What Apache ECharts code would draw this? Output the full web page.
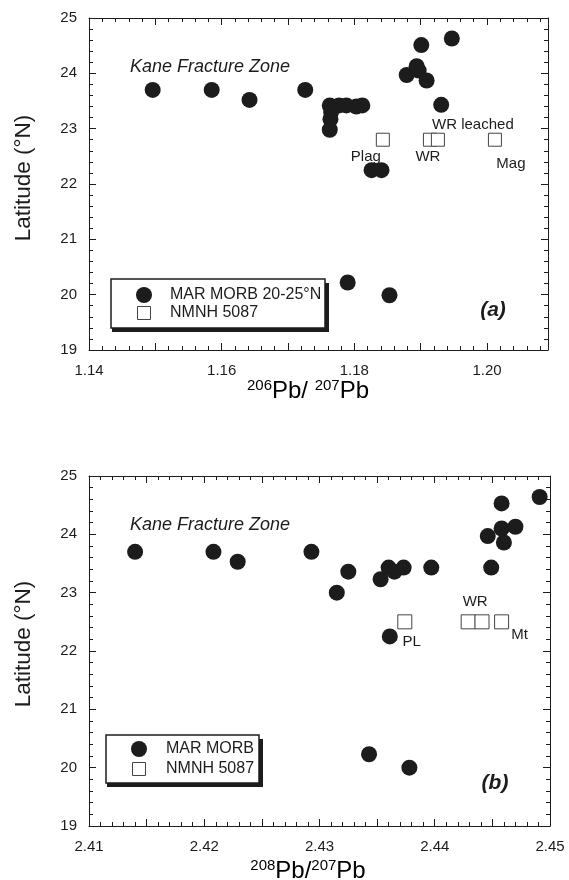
<!DOCTYPE html>
<html>
<head>
<meta charset="utf-8">
<script src="https://cdn.jsdelivr.net/npm/echarts@6/dist/echarts.min.js"></script>
<style>
html,body{margin:0;padding:0;background:#fff;}
#c{width:569px;height:880px;}
</style>
</head>
<body>
<div id="c"></div>
<script>
// ---- Data (a): 206Pb/207Pb vs Latitude ----
var morbA_x = [1.1496,1.1585,1.1642,1.1726,1.1763,1.1765,1.1764,1.1763,1.1777,1.1788,1.1803,1.1812,1.1826,1.1841,1.1879,1.1894,1.1897,1.1909,1.1901,1.1947,1.1931,1.1790,1.1853];
var morbA_y = [23.70,23.70,23.52,23.70,23.42,23.30,23.17,22.98,23.42,23.42,23.40,23.42,22.25,22.25,23.97,24.13,24.05,23.87,24.51,24.63,23.43,20.22,19.99];
var nmnhA_x = [1.1843,1.1914,1.1926,1.2012];
var nmnhA_y = [22.80,22.80,22.80,22.80];
var nmnhA_names = ['Plag','WR','WR leached','Mag'];

// ---- Data (b): 208Pb/207Pb vs Latitude ----
var morbB_x = [2.4140,2.4208,2.4229,2.4293,2.4315,2.4325,2.4353,2.4360,2.4365,2.4373,2.4397,2.4449,2.4446,2.4458,2.4460,2.4470,2.4458,2.4491,2.4361,2.4343,2.4378];
var morbB_y = [23.70,23.70,23.53,23.70,23.00,23.36,23.23,23.43,23.36,23.43,23.43,23.43,23.97,24.10,23.86,24.13,24.53,24.64,22.25,20.23,20.00];
var nmnhB_x = [2.4374,2.4429,2.4441,2.4458];
var nmnhB_y = [22.50,22.50,22.50,22.50];
var nmnhB_names = ['PL','WR','','Mt'];

// tick settings
var yTicks = {min:19, max:25, interval:1};
var xTicksA = {min:1.14, max:1.2092, interval:0.01};
var xTicksB = {min:2.41, max:2.45, interval:0.005};

// ---- styling (not data) ----
var INK = '#1c1c1c';
var FONT = 'Liberation Sans, Arial, Helvetica, sans-serif';
var offA = [[-17,17],[-2,17],[35,-15],[16,24]];
var offB = [[7,20],[7,-20],[0,0],[18,13]];

function zip(xs, ys){ var o=[]; for(var i=0;i<xs.length;i++) o.push([xs[i], ys[i]]); return o; }
function labelled(xs, ys, names, offs){
  var o=[];
  for(var i=0;i<xs.length;i++){
    o.push({value:[xs[i],ys[i]], label:{show:names[i]!=='', formatter:names[i], position:'inside', offset:offs[i], color:INK, fontSize:15, fontFamily:FONT}});
  }
  return o;
}

function xAxisDef(grid, t, pos, showLabel, fmt, showMax){
  return {
    type:'value', gridIndex:grid, position:pos, min:t.min, max:t.max, interval:t.interval,
    axisLine:{show:true, onZero:false, lineStyle:{color:INK, width:1}},
    axisTick:{show:true, inside:true, length:7, lineStyle:{color:INK, width:1}},
    minorTick:{show:true, splitNumber:5, length:4, lineStyle:{color:INK, width:1}},
    splitLine:{show:false}, minorSplitLine:{show:false},
    axisLabel:{show:showLabel, margin:13, color:INK, fontSize:15, fontFamily:FONT, showMaxLabel:showMax, showMinLabel:true, formatter:fmt}
  };
}
function yAxisDef(grid, pos, showLabel){
  return {
    type:'value', gridIndex:grid, position:pos, min:yTicks.min, max:yTicks.max, interval:yTicks.interval,
    axisLine:{show:true, onZero:false, lineStyle:{color:INK, width:1}},
    axisTick:{show:true, inside:true, length:7, lineStyle:{color:INK, width:1}},
    minorTick:{show:true, splitNumber:5, length:4, lineStyle:{color:INK, width:1}},
    splitLine:{show:false}, minorSplitLine:{show:false},
    axisLabel:{show:showLabel, margin:12, color:INK, fontSize:15, fontFamily:FONT}
  };
}
var fmtA = function(v){ var k=Math.round(v*100); return (k%2===0) ? (k/100).toFixed(2) : ''; };
var fmtB = function(v){ var k=Math.round(v*1000); return (k%10===0) ? (k/1000).toFixed(2) : ''; };

var chart = echarts.init(document.getElementById('c'), null, {renderer:'canvas'});

function legendGroup(x, y, w, h, items){
  var children = [
    {type:'rect', shape:{x:x+1, y:y+4, width:w+3, height:h}, style:{fill:INK}},
    {type:'rect', shape:{x:x, y:y, width:w, height:h}, style:{fill:'#fff', stroke:INK, lineWidth:1.5}}
  ];
  items.forEach(function(it){
    if(it.kind==='dot'){
      children.push({type:'circle', shape:{cx:it.mx, cy:it.my, r:8}, style:{fill:INK}});
    } else {
      children.push({type:'rect', shape:{x:it.mx-6.5, y:it.my-6.5, width:13, height:13}, style:{fill:'#fff', stroke:'#444', lineWidth:1}});
    }
    children.push({type:'text', x:it.tx, y:it.my, style:{text:it.text, fill:INK, font:'16px '+FONT, verticalAlign:'middle'}});
  });
  return {type:'group', children:children};
}

var titleRich = {
  sup:{fontSize:15, fontFamily:FONT, color:INK, verticalAlign:'top', lineHeight:26},
  m:{fontSize:24, fontFamily:FONT, color:INK, lineHeight:26}
};

var option = {
  backgroundColor:'#fff',
  animation:false,
  grid:[
    {left:89, top:18, width:459, height:332, containLabel:false},
    {left:89, top:476, width:461, height:350, containLabel:false}
  ],
  xAxis:[
    xAxisDef(0, xTicksA, 'bottom', true, fmtA, false),
    xAxisDef(0, xTicksA, 'top', false, fmtA, false),
    xAxisDef(1, xTicksB, 'bottom', true, fmtB, true),
    xAxisDef(1, xTicksB, 'top', false, fmtB, false)
  ],
  yAxis:[
    yAxisDef(0, 'left', true),
    yAxisDef(0, 'right', false),
    yAxisDef(1, 'left', true),
    yAxisDef(1, 'right', false)
  ],
  series:[
    {name:'MAR MORB 20-25°N', type:'scatter', xAxisIndex:0, yAxisIndex:0, symbol:'circle', symbolSize:16,
     itemStyle:{color:INK, opacity:1}, data:zip(morbA_x, morbA_y)},
    {name:'NMNH 5087', type:'scatter', xAxisIndex:0, yAxisIndex:0, symbol:'rect', symbolSize:13,
     itemStyle:{color:'#fff', borderColor:'#444', borderWidth:1, opacity:1}, data:labelled(nmnhA_x, nmnhA_y, nmnhA_names, offA)},
    {name:'MAR MORB', type:'scatter', xAxisIndex:2, yAxisIndex:2, symbol:'circle', symbolSize:16,
     itemStyle:{color:INK, opacity:1}, data:zip(morbB_x, morbB_y)},
    {name:'NMNH 5087 ', type:'scatter', xAxisIndex:2, yAxisIndex:2, symbol:'rect', symbolSize:14,
     itemStyle:{color:'#fff', borderColor:'#444', borderWidth:1, opacity:1}, data:labelled(nmnhB_x, nmnhB_y, nmnhB_names, offB)}
  ],
  graphic:[
    {type:'text', x:130, y:67, style:{text:'Kane Fracture Zone', fill:INK, font:'italic 18px '+FONT, verticalAlign:'middle'}},
    {type:'text', x:130, y:525, style:{text:'Kane Fracture Zone', fill:INK, font:'italic 18px '+FONT, verticalAlign:'middle'}},
    {type:'text', x:493, y:310, style:{text:'(a)', fill:INK, font:'italic bold 21px '+FONT, align:'center', verticalAlign:'middle'}},
    {type:'text', x:495, y:783, style:{text:'(b)', fill:INK, font:'italic bold 21px '+FONT, align:'center', verticalAlign:'middle'}},
    {type:'text', x:24, y:178, rotation:Math.PI/2, style:{text:'Latitude (°N)', fill:INK, font:'22.5px '+FONT, align:'center', verticalAlign:'middle'}},
    {type:'text', x:24, y:644, rotation:Math.PI/2, style:{text:'Latitude (°N)', fill:INK, font:'22.5px '+FONT, align:'center', verticalAlign:'middle'}},
    {type:'text', x:308, y:391, style:{text:'{sup|206}{m|Pb/ }{sup|207}{m|Pb}', rich:titleRich, align:'center', verticalAlign:'middle'}},
    {type:'text', x:308, y:871, style:{text:'{sup|208}{m|Pb/}{sup|207}{m|Pb}', rich:titleRich, align:'center', verticalAlign:'middle'}},
    legendGroup(111, 279, 214, 49, [
      {kind:'dot', mx:144, my:295, tx:170, text:'MAR MORB 20-25°N'},
      {kind:'sq', mx:144, my:313, tx:170, text:'NMNH 5087'}
    ]),
    legendGroup(106, 735, 153, 48, [
      {kind:'dot', mx:139, my:749, tx:166, text:'MAR MORB'},
      {kind:'sq', mx:139, my:769, tx:166, text:'NMNH 5087'}
    ])
  ]
};
chart.setOption(option);
</script>
</body>
</html>
